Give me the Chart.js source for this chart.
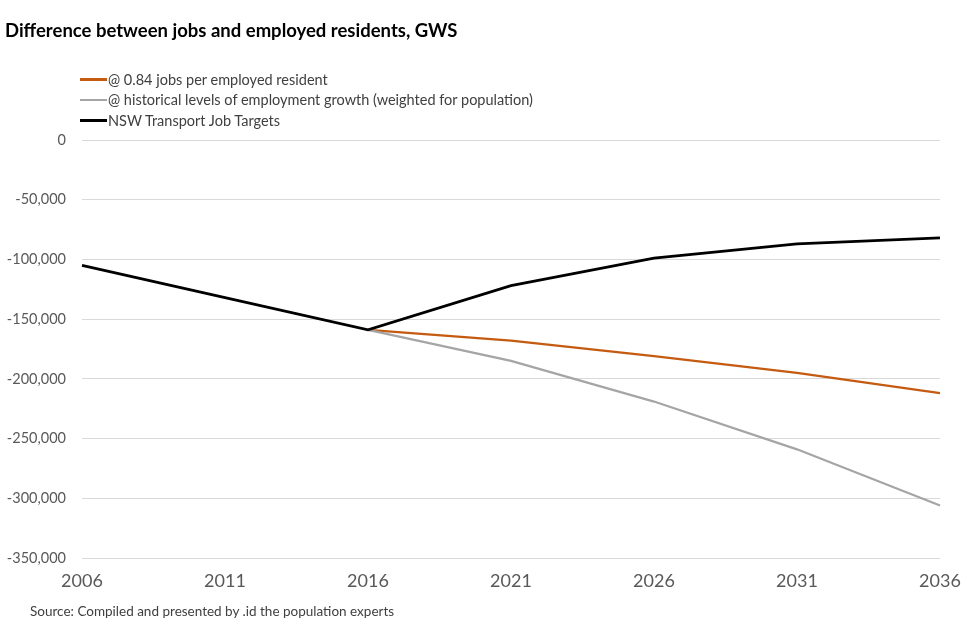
<!DOCTYPE html>
<html lang="en">
<head>
    <meta charset="UTF-8">
    <title>Difference between jobs and employed residents, GWS</title>
    <script src="https://cdn.jsdelivr.net/npm/chart.js"></script>
    <style>
        body {
            margin: 0;
            background: #ffffff;
            font-family: Lato, "Open Sans", sans-serif;
        }

        .wrap {
            position: relative;
            width: 968px;
            height: 631px;
        }

        .title {
            position: absolute;
            left: 5px;
            top: 19px;
            font-size: 18.5px;
            font-weight: bold;
            color: #000;
        }

        #legend {
            position: absolute;
            left: 80px;
            top: 69px;
            font-size: 14.5px;
            color: #404040;
        }

        .legend-item {
            display: flex;
            align-items: center;
            height: 20.5px;
        }

        .legend-swatch {
            width: 27px;
            height: 2.5px;
            margin-right: 1px;
        }

        .source {
            position: absolute;
            left: 30px;
            top: 603px;
            font-size: 13.5px;
            color: #404040;
        }
    </style>
</head>
<body>
    <div class="wrap">
        <canvas id="chart" width="968" height="631"></canvas>
        <div class="title">Difference between jobs and employed residents, GWS</div>
        <div id="legend"></div>
        <div class="source">Source: Compiled and presented by .id the population experts</div>
    </div>

    <script>
        // data
        const years = ['2006', '2011', '2016', '2021', '2026', '2031', '2036'];
        const perResident = [null, null, -159000, -168000, -181000, -195000, -212000];
        const historical = [null, null, -159000, -185000, -219000, -259000, -306000];
        const transportTargets = [-105000, -132000, -159000, -122000, -99000, -87000, -82000];

        const seriesNames = [
            '@ 0.84 jobs per employed resident',
            '@ historical levels of employment growth (weighted for population)',
            'NSW Transport Job Targets'
        ];
        const colors = ['#c55a11', '#a5a5a5', '#000000'];

        const yMin = -350000;
        const yMax = 0;
        const yStep = 50000;

        const datasets = [perResident, historical, transportTargets].map((values, i) => ({
            label: seriesNames[i],
            data: values,
            borderColor: colors[i],
            backgroundColor: colors[i],
            borderWidth: i === 2 ? 2.75 : 2.25,
            pointRadius: 0,
            tension: 0,
            order: 2 - i
        }));

        const chart = new Chart(document.getElementById('chart'), {
            type: 'line',
            data: { labels: years, datasets: datasets },
            options: {
                responsive: false,
                animation: false,
                layout: { padding: { left: 0, top: 140, right: 28, bottom: 0 } },
                plugins: {
                    legend: { display: false },
                    tooltip: { enabled: false }
                },
                scales: {
                    x: {
                        offset: false,
                        grid: { display: false },
                        border: { display: false },
                        ticks: {
                            color: '#595959',
                            font: { family: 'Lato', size: 18 },
                            padding: 4,
                            maxRotation: 0
                        },
                        afterFit: s => { s.height = 73; }
                    },
                    y: {
                        min: yMin,
                        max: yMax,
                        grid: { color: '#d9d9d9', lineWidth: 1, drawTicks: false },
                        border: { display: false },
                        ticks: {
                            stepSize: yStep,
                            color: '#595959',
                            font: { family: 'Lato', size: 14.5 },
                            padding: 16,
                            callback: v => v === 0 ? '0' : v.toLocaleString('en-US')
                        },
                        afterFit: s => { s.width = 82; }
                    }
                }
            }
        });

        // legend stacked vertically, built from the datasets
        document.getElementById('legend').innerHTML = datasets.map(ds => `
            <div class="legend-item">
                <span class="legend-swatch" style="background:${ds.borderColor}"></span>
                <span>${ds.label}</span>
            </div>
        `).join('');
    </script>
</body>
</html>
